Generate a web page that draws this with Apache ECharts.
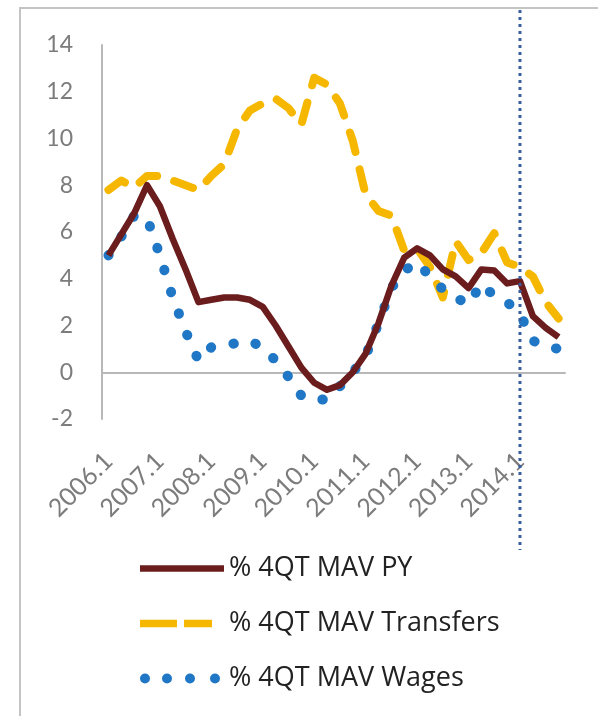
<!DOCTYPE html>
<html>
<head>
<meta charset="utf-8">
<script src="https://cdn.jsdelivr.net/npm/echarts@6/dist/echarts.min.js"></script>
<style>
  html, body { margin: 0; padding: 0; background: #fff; }
  #chart { width: 598px; height: 716px; }
</style>
</head>
<body>
<div id="chart"></div>
<script>
// quarters shown on the x axis
const quarters = [
  '2006.1', '2006.2', '2006.3', '2006.4', '2007.1', '2007.2', '2007.3', '2007.4',
  '2008.1', '2008.2', '2008.3', '2008.4', '2009.1', '2009.2', '2009.3', '2009.4',
  '2010.1', '2010.2', '2010.3', '2010.4', '2011.1', '2011.2', '2011.3', '2011.4',
  '2012.1', '2012.2', '2012.3', '2012.4', '2013.1', '2013.2', '2013.3', '2013.4',
  '2014.1', '2014.2', '2014.3', '2014.4'
];
const seriesNames = ['% 4QT MAV PY', '% 4QT MAV Transfers', '% 4QT MAV Wages'];
const py = [
  5.0, 5.9, 6.8, 8.0, 7.1, 5.7, 4.4, 3.0,
  3.1, 3.2, 3.2, 3.1, 2.8, 2.0, 1.1, 0.2,
  -0.45, -0.75, -0.55, 0.0, 0.8, 2.1, 3.7, 4.9,
  5.3, 5.0, 4.4, 4.1, 3.6, 4.4, 4.35, 3.8,
  3.9, 2.4, 1.9, 1.5
];
const transfers = [
  7.8, 8.2, 7.9, 8.4, 8.4, 8.2, 8.0, 7.8,
  8.4, 8.9, 10.4, 11.2, 11.5, 11.7, 11.3, 10.6,
  12.6, 12.3, 11.5, 9.9, 7.6, 6.9, 6.7, 5.2,
  5.3, 4.5, 3.2, 5.6, 4.8, 5.1, 5.95, 4.7,
  4.5, 4.1, 3.0, 2.3
];
const wages = [
  5.0, 5.8, 6.7, 6.6, 5.0, 3.2, 1.75, 0.5,
  1.07, 1.15, 1.25, 1.35, 1.05, 0.5, -0.2, -1.0,
  -1.2, -1.15, -0.6, 0.0, 0.7, 2.1, 3.6, 4.35,
  4.7, 4.1, 3.55, 3.2, 2.9, 3.8, 3.25, 3.0,
  2.5, 1.35, 1.1, 1.0
];
const markerQuarter = '2014.1';

const tickFont = 'Lato, "Open Sans", sans-serif';
const legendFont = '"Open Sans", Lato, sans-serif';
const axisGray = '#b8b8b8';
const tickGray = '#7c7c7c';

// legend icons (solid / dashed / dotted), bbox 84x10
const iconSolid = 'path://M0,0M84,10M0,1.8H84V8.2H0Z';
const iconDashed = 'path://M0,0M84,10M0,1.3H37V8.7H0ZM44,1.3H72V8.7H44Z';
const iconDotted = 'path://M0,0M84,10' +
  'M0,5a5,5 0 1,0 10,0a5,5 0 1,0 -10,0Z' +
  'M22,5a5,5 0 1,0 10,0a5,5 0 1,0 -10,0Z' +
  'M45,5a5,5 0 1,0 10,0a5,5 0 1,0 -10,0Z' +
  'M70,5a5,5 0 1,0 10,0a5,5 0 1,0 -10,0Z';

const chart = echarts.init(document.getElementById('chart'));
chart.setOption({
  animation: false,
  color: ['#6b1d1d', '#f5b700', '#1f77c6'],
  grid: { left: 102, right: 33, top: 45, bottom: 297 },
  legend: {
    orient: 'vertical',
    left: 140,
    top: 555,
    padding: 0,
    itemWidth: 84,
    itemHeight: 10,
    itemGap: 28,
    itemStyle: { borderWidth: 0 },
    textStyle: { fontSize: 27, color: '#222', fontFamily: legendFont },
    data: [
      { name: seriesNames[0], icon: iconSolid },
      { name: seriesNames[1], icon: iconDashed },
      { name: seriesNames[2], icon: iconDotted }
    ]
  },
  xAxis: [
    {
      // zero line
      type: 'category',
      data: quarters,
      boundaryGap: true,
      axisLine: { onZero: true, lineStyle: { color: axisGray, width: 2 } },
      axisTick: { show: false },
      axisLabel: { show: false }
    },
    {
      // labels at the bottom
      type: 'category',
      data: quarters,
      position: 'bottom',
      boundaryGap: true,
      axisLine: { show: false },
      axisTick: { show: false },
      axisLabel: {
        interval: 3,
        rotate: 45,
        margin: 38,
        fontSize: 25,
        color: tickGray,
        fontFamily: tickFont
      }
    }
  ],
  yAxis: {
    type: 'value',
    min: -2,
    max: 14,
    interval: 2,
    axisLine: { show: true, lineStyle: { color: axisGray, width: 2 } },
    axisTick: { show: false },
    splitLine: { show: false },
    axisLabel: { margin: 29, fontSize: 23, color: tickGray, fontFamily: tickFont }
  },
  series: [
    {
      name: seriesNames[0],
      type: 'line',
      data: py,
      symbol: 'none',
      z: 4,
      lineStyle: { width: 6.5, join: 'round' }
    },
    {
      name: seriesNames[1],
      type: 'line',
      data: transfers,
      symbol: 'none',
      z: 2,
      lineStyle: { width: 8, type: [20, 18], cap: 'round', join: 'round' }
    },
    {
      name: seriesNames[2],
      type: 'line',
      data: wages,
      symbol: 'none',
      z: 3,
      lineStyle: { width: 10, type: [0.5, 22.5], cap: 'round' }
    }
  ]
});

// frame and the dotted marker line at 2014.1
const mx = chart.convertToPixel({ xAxisIndex: 0 }, markerQuarter);
chart.setOption({
  graphic: [
    {
      type: 'rect',
      silent: true,
      shape: { x: 20, y: 8, width: 700, height: 800 },
      style: { fill: 'none', stroke: '#c4c4c4', lineWidth: 2 }
    },
    {
      type: 'line',
      silent: true,
      z: 10,
      shape: { x1: mx, y1: 10, x2: mx, y2: 550 },
      style: { stroke: '#3a5d9e', lineWidth: 3, lineDash: [3, 4] }
    }
  ]
});
</script>
</body>
</html>
